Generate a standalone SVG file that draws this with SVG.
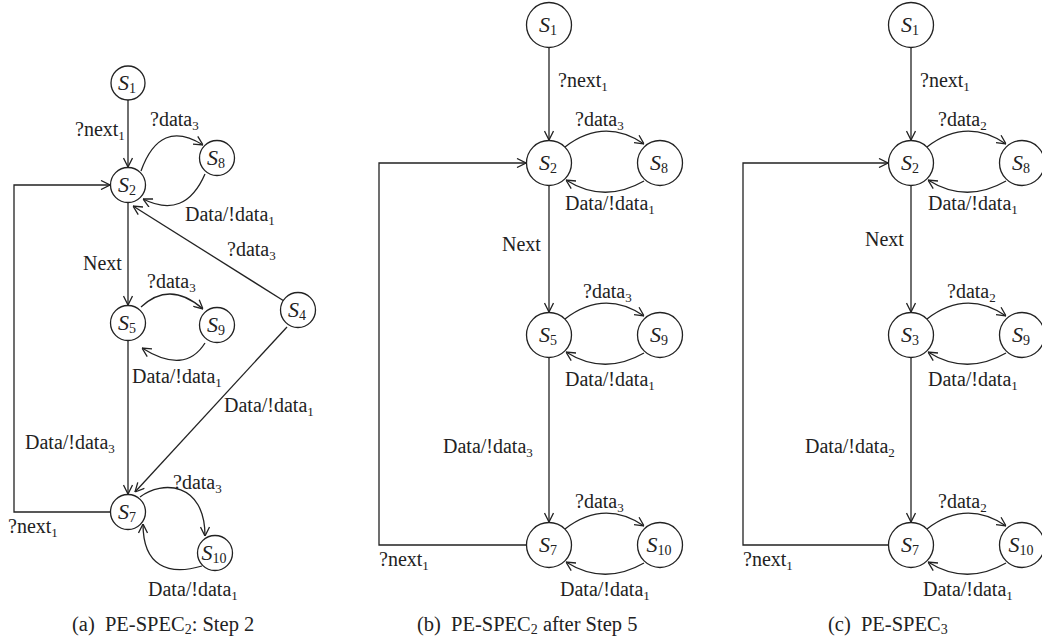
<svg xmlns="http://www.w3.org/2000/svg" width="1042" height="644" viewBox="0 0 1042 644">
<style>
.n{fill:#fff;stroke:#222;stroke-width:1.3}
.e{fill:none;stroke:#222;stroke-width:1.3}
text{font-family:"Liberation Serif","Times New Roman",serif;fill:#222;font-size:20px}
.s{font-style:italic}
.nl{font-size:22px}
.cap{font-size:20.5px}
</style>
<defs>
<marker id="ar" viewBox="0 0 10 10" refX="10" refY="5" markerWidth="10" markerHeight="10" markerUnits="userSpaceOnUse" orient="auto">
<path d="M1,0.5 L10,5 L1,9.5" fill="none" stroke="#222" stroke-width="1.3"/>
</marker>
</defs>
<rect width="1042" height="644" fill="#fff"/>

<!-- Panel (a) connectors -->
<g id="edges-a">
<path class="e" d="M128,100 L128,167" marker-end="url(#ar)"/>
<path class="e" d="M141,171 Q160,118 203,145" marker-end="url(#ar)"/>
<path class="e" d="M205,174 Q185,220 143,199" marker-end="url(#ar)"/>
<path class="e" d="M284,301 L133,206" marker-end="url(#ar)"/>
<path class="e" d="M128,202 L128,305" marker-end="url(#ar)"/>
<path class="e" d="M141,307 Q170,280 203,309" marker-end="url(#ar)"/>
<path class="e" d="M205,343 Q185,375 142,348" marker-end="url(#ar)"/>
<path class="e" d="M128,340 L128,494" marker-end="url(#ar)"/>
<path class="e" d="M287,327 L135,492" marker-end="url(#ar)"/>
<path class="e" d="M111,512 L14,512 L14,185 L110,185" marker-end="url(#ar)"/>
<path class="e" d="M140,497 C162,480 205,482 205,536" marker-end="url(#ar)"/>
<path class="e" d="M202,566 C168,576 143,566 143,524" marker-end="url(#ar)"/>
</g>
<g id="labels-a">
<text x="75" y="136">?next<tspan dy="4" font-size="13">1</tspan></text>
<text x="150" y="126">?data<tspan dy="4" font-size="13">3</tspan></text>
<text x="185" y="221">Data/!data<tspan dy="4" font-size="13">1</tspan></text>
<text x="227" y="256">?data<tspan dy="4" font-size="13">3</tspan></text>
<text x="83" y="270">Next</text>
<text x="147" y="288">?data<tspan dy="4" font-size="13">3</tspan></text>
<text x="132" y="383">Data/!data<tspan dy="4" font-size="13">1</tspan></text>
<text x="224" y="412">Data/!data<tspan dy="4" font-size="13">1</tspan></text>
<text x="25" y="449">Data/!data<tspan dy="4" font-size="13">3</tspan></text>
<text x="173" y="489">?data<tspan dy="4" font-size="13">3</tspan></text>
<text x="8" y="533">?next<tspan dy="4" font-size="13">1</tspan></text>
<text x="148" y="596">Data/!data<tspan dy="4" font-size="13">1</tspan></text>
</g>
<g id="a-S1"><circle class="n" cx="128" cy="83" r="17"/><text class="nl" x="127" y="90" text-anchor="middle"><tspan class="s">S</tspan><tspan dy="3" font-size="14">1</tspan></text></g>
<g id="a-S2"><circle class="n" cx="128" cy="185" r="17.5"/><text class="nl" x="127" y="192" text-anchor="middle"><tspan class="s">S</tspan><tspan dy="3" font-size="14">2</tspan></text></g>
<g id="a-S8"><circle class="n" cx="217" cy="158" r="17.5"/><text class="nl" x="216" y="165" text-anchor="middle"><tspan class="s">S</tspan><tspan dy="3" font-size="14">8</tspan></text></g>
<g id="a-S5"><circle class="n" cx="128" cy="323" r="17.5"/><text class="nl" x="127" y="330" text-anchor="middle"><tspan class="s">S</tspan><tspan dy="3" font-size="14">5</tspan></text></g>
<g id="a-S9"><circle class="n" cx="217" cy="325" r="17.5"/><text class="nl" x="216" y="332" text-anchor="middle"><tspan class="s">S</tspan><tspan dy="3" font-size="14">9</tspan></text></g>
<g id="a-S4"><circle class="n" cx="298" cy="310" r="17.5"/><text class="nl" x="297" y="317" text-anchor="middle"><tspan class="s">S</tspan><tspan dy="3" font-size="14">4</tspan></text></g>
<g id="a-S7"><circle class="n" cx="128" cy="512" r="17.5"/><text class="nl" x="127" y="519" text-anchor="middle"><tspan class="s">S</tspan><tspan dy="3" font-size="14">7</tspan></text></g>
<g id="a-S10"><circle class="n" cx="215" cy="553" r="17.5"/><text class="nl" x="214" y="560" text-anchor="middle"><tspan class="s">S</tspan><tspan dy="3" font-size="14">10</tspan></text></g>

<!-- Panel (b) connectors -->
<g id="edges-b">
<path class="e" d="M549,48 L549,140" marker-end="url(#ar)"/>
<path class="e" d="M565,147 Q604,117 644,144" marker-end="url(#ar)"/>
<path class="e" d="M644,181 Q604,204 566,180" marker-end="url(#ar)"/>
<path class="e" d="M549,186 L549,312" marker-end="url(#ar)"/>
<path class="e" d="M565,319 Q604,289 644,316" marker-end="url(#ar)"/>
<path class="e" d="M644,353 Q604,376 566,352" marker-end="url(#ar)"/>
<path class="e" d="M549,358 L549,522" marker-end="url(#ar)"/>
<path class="e" d="M565,529 Q604,499 644,526" marker-end="url(#ar)"/>
<path class="e" d="M644,563 Q604,586 566,562" marker-end="url(#ar)"/>
<path class="e" d="M526,545 L379,545 L379,163 L526,163" marker-end="url(#ar)"/>
</g>
<g id="labels-b">
<text x="558" y="87">?next<tspan dy="4" font-size="13">1</tspan></text>
<text x="575" y="126">?data<tspan dy="4" font-size="13">3</tspan></text>
<text x="565" y="210">Data/!data<tspan dy="4" font-size="13">1</tspan></text>
<text x="502" y="251">Next</text>
<text x="583" y="298">?data<tspan dy="4" font-size="13">3</tspan></text>
<text x="565" y="386">Data/!data<tspan dy="4" font-size="13">1</tspan></text>
<text x="443" y="453">Data/!data<tspan dy="4" font-size="13">3</tspan></text>
<text x="575" y="508">?data<tspan dy="4" font-size="13">3</tspan></text>
<text x="379" y="566">?next<tspan dy="4" font-size="13">1</tspan></text>
<text x="560" y="596">Data/!data<tspan dy="4" font-size="13">1</tspan></text>
</g>
<g id="b-S1"><circle class="n" cx="549" cy="25" r="22.5"/><text class="nl" x="548" y="32" text-anchor="middle"><tspan class="s">S</tspan><tspan dy="3" font-size="14">1</tspan></text></g>
<g id="b-S2"><circle class="n" cx="549" cy="163" r="22.5"/><text class="nl" x="548" y="170" text-anchor="middle"><tspan class="s">S</tspan><tspan dy="3" font-size="14">2</tspan></text></g>
<g id="b-S8"><circle class="n" cx="660" cy="163" r="22.5"/><text class="nl" x="659" y="170" text-anchor="middle"><tspan class="s">S</tspan><tspan dy="3" font-size="14">8</tspan></text></g>
<g id="b-S5"><circle class="n" cx="549" cy="335" r="22.5"/><text class="nl" x="548" y="342" text-anchor="middle"><tspan class="s">S</tspan><tspan dy="3" font-size="14">5</tspan></text></g>
<g id="b-S9"><circle class="n" cx="660" cy="335" r="22.5"/><text class="nl" x="659" y="342" text-anchor="middle"><tspan class="s">S</tspan><tspan dy="3" font-size="14">9</tspan></text></g>
<g id="b-S7"><circle class="n" cx="549" cy="545" r="22.5"/><text class="nl" x="548" y="552" text-anchor="middle"><tspan class="s">S</tspan><tspan dy="3" font-size="14">7</tspan></text></g>
<g id="b-S10"><circle class="n" cx="660" cy="545" r="22.5"/><text class="nl" x="659" y="552" text-anchor="middle"><tspan class="s">S</tspan><tspan dy="3" font-size="14">10</tspan></text></g>

<!-- Panel (c) connectors -->
<g id="edges-c">
<path class="e" d="M911,48 L911,140" marker-end="url(#ar)"/>
<path class="e" d="M927,147 Q966,117 1006,144" marker-end="url(#ar)"/>
<path class="e" d="M1006,181 Q966,204 928,180" marker-end="url(#ar)"/>
<path class="e" d="M911,186 L911,312" marker-end="url(#ar)"/>
<path class="e" d="M927,319 Q966,289 1006,316" marker-end="url(#ar)"/>
<path class="e" d="M1006,353 Q966,376 928,352" marker-end="url(#ar)"/>
<path class="e" d="M911,358 L911,522" marker-end="url(#ar)"/>
<path class="e" d="M927,529 Q966,499 1006,526" marker-end="url(#ar)"/>
<path class="e" d="M1006,563 Q966,586 928,562" marker-end="url(#ar)"/>
<path class="e" d="M888,545 L743,545 L743,163 L888,163" marker-end="url(#ar)"/>
</g>
<g id="labels-c">
<text x="920" y="87">?next<tspan dy="4" font-size="13">1</tspan></text>
<text x="938" y="126">?data<tspan dy="4" font-size="13">2</tspan></text>
<text x="928" y="210">Data/!data<tspan dy="4" font-size="13">1</tspan></text>
<text x="865" y="246">Next</text>
<text x="947" y="298">?data<tspan dy="4" font-size="13">2</tspan></text>
<text x="928" y="386">Data/!data<tspan dy="4" font-size="13">1</tspan></text>
<text x="805" y="453">Data/!data<tspan dy="4" font-size="13">2</tspan></text>
<text x="938" y="508">?data<tspan dy="4" font-size="13">2</tspan></text>
<text x="743" y="566">?next<tspan dy="4" font-size="13">1</tspan></text>
<text x="923" y="596">Data/!data<tspan dy="4" font-size="13">1</tspan></text>
</g>
<g id="c-S1"><circle class="n" cx="911" cy="25" r="22.5"/><text class="nl" x="910" y="32" text-anchor="middle"><tspan class="s">S</tspan><tspan dy="3" font-size="14">1</tspan></text></g>
<g id="c-S2"><circle class="n" cx="911" cy="163" r="22.5"/><text class="nl" x="910" y="170" text-anchor="middle"><tspan class="s">S</tspan><tspan dy="3" font-size="14">2</tspan></text></g>
<g id="c-S8"><circle class="n" cx="1022" cy="163" r="22.5"/><text class="nl" x="1021" y="170" text-anchor="middle"><tspan class="s">S</tspan><tspan dy="3" font-size="14">8</tspan></text></g>
<g id="c-S3"><circle class="n" cx="911" cy="335" r="22.5"/><text class="nl" x="910" y="342" text-anchor="middle"><tspan class="s">S</tspan><tspan dy="3" font-size="14">3</tspan></text></g>
<g id="c-S9"><circle class="n" cx="1022" cy="335" r="22.5"/><text class="nl" x="1021" y="342" text-anchor="middle"><tspan class="s">S</tspan><tspan dy="3" font-size="14">9</tspan></text></g>
<g id="c-S7"><circle class="n" cx="911" cy="545" r="22.5"/><text class="nl" x="910" y="552" text-anchor="middle"><tspan class="s">S</tspan><tspan dy="3" font-size="14">7</tspan></text></g>
<g id="c-S10"><circle class="n" cx="1022" cy="545" r="22.5"/><text class="nl" x="1021" y="552" text-anchor="middle"><tspan class="s">S</tspan><tspan dy="3" font-size="14">10</tspan></text></g>

<g id="captions">
<text class="cap" x="72" y="631">(a)<tspan dx="5"> PE-SPEC</tspan><tspan dy="3" font-size="14">2</tspan><tspan dy="-3">: Step 2</tspan></text>
<text class="cap" x="417" y="631">(b)<tspan dx="5"> PE-SPEC</tspan><tspan dy="3" font-size="14">2</tspan><tspan dy="-3"> after Step 5</tspan></text>
<text class="cap" x="828" y="631">(c)<tspan dx="5"> PE-SPEC</tspan><tspan dy="3" font-size="14">3</tspan></text>
</g>
</svg>
